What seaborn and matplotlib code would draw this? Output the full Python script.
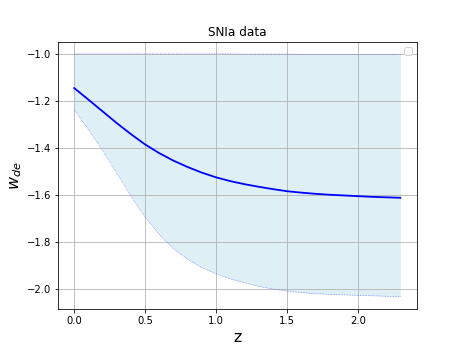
import numpy as np
import pandas as pd
import matplotlib
matplotlib.use("Agg")
import matplotlib.pyplot as plt
import seaborn as sns

z = [0.0, 0.1, 0.2, 0.3, 0.4, 0.5, 0.6, 0.7, 0.8, 0.9, 1.0, 1.1,
     1.2, 1.3, 1.4, 1.5, 1.6, 1.7, 1.8, 1.9, 2.0, 2.1, 2.2, 2.3]
w_mean = [-1.146, -1.195, -1.245, -1.295, -1.342, -1.386, -1.423, -1.455,
          -1.482, -1.506, -1.526, -1.542, -1.555, -1.566, -1.576, -1.585,
          -1.591, -1.596, -1.600, -1.603, -1.606, -1.609, -1.611, -1.613]
w_lower = [-1.238, -1.322, -1.412, -1.508, -1.606, -1.696, -1.770, -1.830,
           -1.875, -1.910, -1.936, -1.958, -1.975, -1.990, -2.001, -2.010,
           -2.016, -2.021, -2.024, -2.026, -2.028, -2.030, -2.032, -2.034]
w_upper = [-1.000, -1.000, -1.000, -1.000, -1.000, -1.000, -1.000, -1.000,
           -1.000, -1.000, -1.000, -1.000, -1.001, -1.001, -1.001, -1.001,
           -1.002, -1.002, -1.002, -1.002, -1.003, -1.003, -1.003, -1.003]

df = pd.DataFrame({"z": z, "mean": w_mean, "lower": w_lower, "upper": w_upper})

plt.rcParams['font.family'] = ['DejaVu Sans']
fig, ax = plt.subplots(figsize=(463 / 72, 347 / 72), dpi=72)

ax.fill_between(df["z"], df["lower"], df["upper"], color="lightblue", alpha=0.4, linewidth=0)
sns.lineplot(data=df, x="z", y="lower", ax=ax, color="blue", lw=0.6, alpha=0.6, linestyle=":")
sns.lineplot(data=df, x="z", y="upper", ax=ax, color="blue", lw=0.6, alpha=0.6, linestyle=":")
sns.lineplot(data=df, x="z", y="mean", ax=ax, color="blue", lw=1.8)

ax.grid(True)
ax.set_title("SNIa data", fontsize=12)
ax.set_xlabel("z", fontsize=16)
ax.set_ylabel("$w_{de}$", fontsize=16, labelpad=2)
ax.legend(loc="upper right")

fig.savefig("out.png", dpi=72)
